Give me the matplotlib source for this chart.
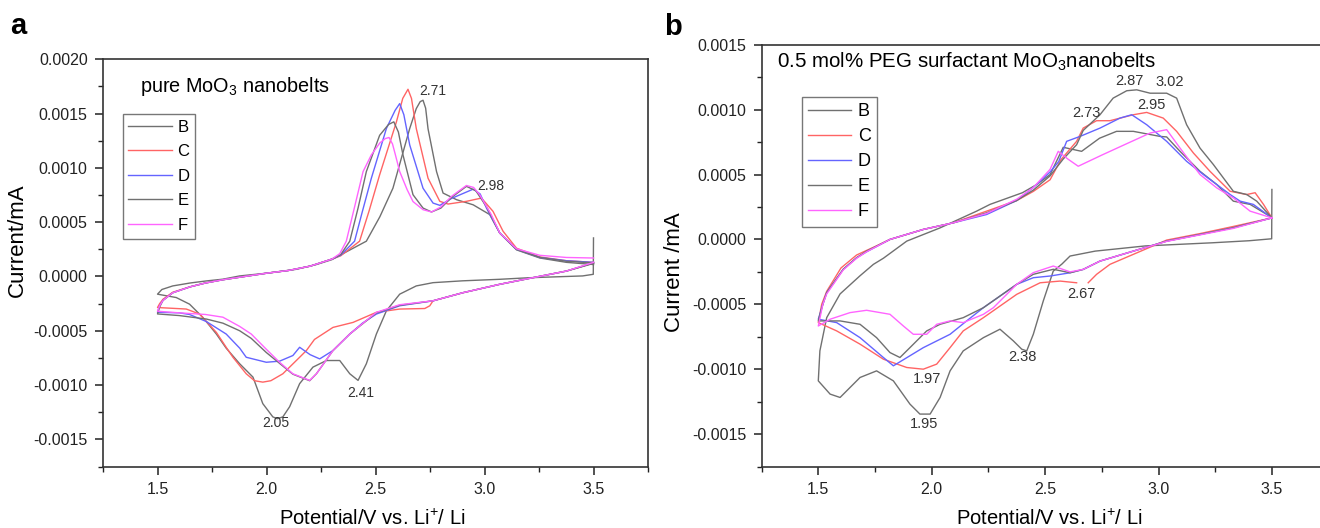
import numpy as np
import matplotlib
matplotlib.use("Agg")
import matplotlib.pyplot as plt
from matplotlib.ticker import MultipleLocator, FormatStrFormatter

plt.rcParams['font.family'] = ['Liberation Sans', 'DejaVu Sans']
plt.rcParams['mathtext.default'] = 'regular'
plt.rcParams['axes.unicode_minus'] = False

# currents are stored in units of 1e-4 mA; each loop = cathodic sweep (3.5 -> 1.5) then anodic sweep (1.5 -> 3.5)
I_UNIT = 1e-4
cycles = ["B", "C", "D", "E", "F"]
colors = ["#707070", "#ff6464", "#6464ff", "#707070", "#ff64ff"]

# ---------- panel a : pure MoO3 nanobelts ----------
a_B_v = [3.5, 3.499, 3.45, 3.376, 3.2, 3.07, 2.9, 2.764, 2.687, 2.611, 2.55, 2.504, 2.458, 2.42, 2.382, 2.336,
         2.275, 2.213, 2.152, 2.106, 2.075, 2.05, 2.029, 1.983, 1.938, 1.877, 1.815, 1.77, 1.708, 1.647, 1.586,
         1.5, 1.52, 1.57, 1.65, 1.724, 1.8, 1.877, 2.0, 2.137, 2.229, 2.3, 2.36, 2.458, 2.52, 2.58, 2.657,
         2.687, 2.705, 2.718, 2.73, 2.741, 2.78, 2.81, 2.872, 2.948, 3.024, 3.07, 3.147, 3.254, 3.376, 3.5]
a_B_i = [3.55, 0.2, 0.05, 0.0, -0.12, -0.26, -0.4, -0.57, -0.87, -1.63, -3.16, -5.3, -8.04, -9.57, -8.96, -7.74,
         -7.74, -8.35, -9.87, -12.0, -12.93, -13.1, -12.93, -11.71, -9.27, -8.04, -6.6, -5.3, -3.77, -2.55, -1.94,
         -1.63, -1.2, -0.87, -0.6, -0.41, -0.25, 0.05, 0.3, 0.66, 1.1, 1.55, 2.2, 3.25, 5.5, 8.13, 13.63,
         15.46, 16.1, 16.23, 15.5, 13.6, 9.66, 7.68, 7.07, 6.6, 5.7, 4.0, 2.45, 1.7, 1.3, 1.1]

a_C_v = [3.5, 3.376, 3.2, 3.07, 2.9, 2.764, 2.749, 2.726, 2.611, 2.504, 2.397, 2.305, 2.22, 2.183, 2.152, 2.075,
         2.02, 1.983, 1.945, 1.907, 1.846, 1.815, 1.77, 1.693, 1.632, 1.586, 1.5,
         1.51, 1.525, 1.57, 1.65, 1.72, 1.8, 1.9, 2.0, 2.1, 2.2, 2.3, 2.34, 2.427, 2.47, 2.519, 2.596, 2.625,
         2.649, 2.665, 2.687, 2.741, 2.795, 2.833, 2.917, 2.986, 3.039, 3.085, 3.147, 3.254, 3.376, 3.5]
a_C_i = [1.25, 0.5, -0.2, -0.72, -1.5, -2.24, -2.7, -2.95, -3.0, -3.3, -4.23, -4.69, -5.8, -6.82, -7.44, -8.96,
         -9.6, -9.73, -9.6, -8.96, -7.44, -6.52, -5.15, -3.46, -3.0, -2.95, -2.86,
         -2.5, -2.1, -1.45, -0.95, -0.6, -0.3, 0.0, 0.3, 0.55, 0.95, 1.6, 1.9, 3.25, 6.0, 9.36, 14.24, 16.4,
         17.24, 16.4, 13.63, 9.05, 6.92, 6.67, 6.92, 7.22, 6.0, 4.17, 2.6, 1.8, 1.45, 1.3]

a_D_v = [3.5, 3.376, 3.2, 3.07, 2.9, 2.764, 2.611, 2.504, 2.44, 2.382, 2.305, 2.244, 2.2, 2.152, 2.121, 2.06,
         1.999, 1.907, 1.877, 1.815, 1.724, 1.647, 1.6, 1.5,
         1.51, 1.525, 1.57, 1.65, 1.72, 1.8, 1.9, 2.0, 2.1, 2.2, 2.3, 2.34, 2.404, 2.44, 2.481, 2.55, 2.59,
         2.611, 2.63, 2.657, 2.718, 2.764, 2.795, 2.85, 2.948, 2.98, 3.009, 3.07, 3.147, 3.254, 3.376, 3.5]
a_D_i = [1.25, 0.5, -0.2, -0.72, -1.5, -2.24, -2.7, -3.46, -4.3, -5.3, -6.82, -7.59, -7.2, -6.52, -7.28, -7.8,
         -7.9, -7.44, -6.6, -5.3, -4.15, -3.5, -3.35, -3.3,
         -2.7, -2.2, -1.5, -0.95, -0.6, -0.3, 0.0, 0.3, 0.55, 0.95, 1.6, 1.95, 3.25, 6.0, 9.05, 13.63, 15.3,
         15.92, 14.9, 12.11, 8.13, 6.76, 6.55, 7.2, 8.04, 7.6, 6.3, 4.0, 2.5, 1.75, 1.45, 1.3]

a_E_v = [3.5, 3.376, 3.2, 3.07, 2.9, 2.764, 2.611, 2.504, 2.382, 2.305, 2.229, 2.198, 2.121, 2.06, 1.999, 1.93,
         1.877, 1.8, 1.724, 1.6, 1.5,
         1.51, 1.525, 1.57, 1.65, 1.72, 1.8, 1.9, 2.0, 2.1, 2.2, 2.3, 2.34, 2.382, 2.42, 2.458, 2.519, 2.56,
         2.584, 2.605, 2.626, 2.672, 2.718, 2.757, 2.8, 2.85, 2.917, 2.96, 3.01, 3.07, 3.147, 3.254, 3.376, 3.5]
a_E_i = [1.2, 0.5, -0.2, -0.72, -1.5, -2.24, -2.65, -3.35, -5.3, -6.82, -8.96, -9.6, -9.0, -8.0, -7.0, -5.7,
         -5.0, -4.3, -3.92, -3.6, -3.45,
         -2.8, -2.2, -1.5, -0.95, -0.6, -0.3, 0.0, 0.3, 0.55, 0.95, 1.6, 2.0, 3.25, 6.3, 9.66, 13.0, 14.0,
         14.24, 13.3, 11.2, 7.53, 6.3, 5.94, 6.3, 7.3, 8.3, 7.9, 6.4, 4.0, 2.5, 1.75, 1.4, 1.25]

a_F_v = [3.5, 3.376, 3.2, 3.07, 2.9, 2.764, 2.611, 2.504, 2.382, 2.305, 2.229, 2.198, 2.121, 2.06, 1.999, 1.93,
         1.877, 1.8, 1.72, 1.6, 1.5,
         1.51, 1.525, 1.57, 1.65, 1.72, 1.8, 1.9, 2.0, 2.1, 2.2, 2.3, 2.336, 2.366, 2.404, 2.443, 2.481, 2.52,
         2.545, 2.562, 2.578, 2.59, 2.611, 2.645, 2.672, 2.718, 2.757, 2.8, 2.85, 2.917, 2.95, 2.978, 3.031,
         3.07, 3.147, 3.254, 3.376, 3.5]
a_F_i = [1.3, 0.5, -0.2, -0.72, -1.5, -2.24, -2.6, -3.3, -5.3, -6.82, -8.96, -9.57, -8.96, -7.9, -6.7, -5.3,
         -4.6, -3.75, -3.5, -3.35, -3.2,
         -2.7, -2.2, -1.5, -0.95, -0.6, -0.3, 0.0, 0.3, 0.55, 0.95, 1.6, 2.1, 3.25, 6.4, 9.66, 11.2, 12.3,
         12.7, 12.8, 12.2, 11.3, 9.66, 8.0, 6.9, 6.15, 5.94, 6.4, 7.4, 8.38, 8.2, 7.53, 5.7,
         4.0, 2.55, 1.95, 1.75, 1.7]

# ---------- panel b : 0.5 mol% PEG surfactant MoO3 nanobelts ----------
b_B_v = [3.5, 3.499, 3.4, 3.236, 2.942, 2.721, 2.61, 2.574, 2.536, 2.492, 2.448, 2.419, 2.397, 2.36, 2.301,
         2.228, 2.139, 2.081, 2.037, 1.993, 1.948, 1.904, 1.831, 1.757, 1.684, 1.596, 1.552, 1.5,
         1.507, 1.537, 1.596, 1.684, 1.743, 1.787, 1.89, 2.037, 2.198, 2.257, 2.4, 2.463, 2.522, 2.58, 2.661,
         2.74, 2.815, 2.889, 3.007, 3.036, 3.095, 3.183, 3.257, 3.33, 3.404, 3.48, 3.5]
b_B_i = [3.85, 0.05, -0.1, -0.26, -0.5, -0.9, -1.28, -1.9, -2.44, -4.74, -7.31, -8.59, -8.46, -7.82, -6.92,
         -7.57, -8.59, -10.13, -12.18, -13.46, -13.46, -12.69, -10.9, -10.13, -10.64, -12.18, -11.92, -10.9,
         -8.59, -6.03, -4.2, -2.8, -1.92, -1.45, -0.13, 0.89, 2.18, 2.7, 3.6, 4.23, 5.0, 7.1, 6.79,
         7.8, 8.33, 8.33, 7.94, 7.9, 6.79, 5.25, 4.23, 2.95, 2.7, 1.9, 1.66]

b_C_v = [3.5, 3.33, 3.183, 3.036, 2.889, 2.786, 2.727, 2.69, np.nan, 2.639, 2.566, 2.478, 2.375, 2.228, 2.139,
         2.081, 2.022, 1.963, 1.89, 1.787, 1.684, 1.581, 1.5,
         1.515, 1.537, 1.6, 1.669, 1.75, 1.816, 1.963, 2.095, 2.242, 2.375, 2.448, 2.522, 2.57, 2.639, 2.668,
         2.727, 2.786, 2.889, 2.948, 3.021, 3.08, 3.154, 3.227, 3.316, 3.389, 3.426, 3.463, 3.5]
b_C_i = [1.66, 1.0, 0.45, -0.05, -1.15, -1.92, -2.69, -3.34, np.nan, -3.34, -3.21, -3.34, -4.23, -6.03, -7.05,
         -8.34, -9.61, -10.0, -9.87, -9.23, -8.07, -7.05, -6.41,
         -5.0, -4.0, -2.2, -1.2, -0.55, 0.0, 0.77, 1.28, 2.18, 3.0, 3.7, 4.6, 6.15, 7.56, 8.58,
         9.15, 9.15, 9.61, 9.79, 9.35, 8.33, 6.66, 5.25, 3.71, 3.46, 3.6, 2.7, 1.66]

b_D_v = [3.5, 3.33, 3.183, 3.036, 2.889, 2.742, 2.668, 2.61, 2.522, 2.448, 2.375, 2.228, 2.154, 2.081, 1.963,
         1.831, 1.787, 1.684, 1.581, 1.5,
         1.52, 1.537, 1.61, 1.669, 1.713, 1.816, 1.963, 2.095, 2.242, 2.375, 2.448, 2.522, 2.56, 2.595, 2.654,
         2.742, 2.83, 2.882, 2.948, 3.036, 3.124, 3.198, 3.316, 3.36, 3.418, 3.5]
b_D_i = [1.66, 0.9, 0.38, -0.13, -0.9, -1.67, -2.31, -2.57, -2.82, -2.95, -3.46, -5.26, -6.28, -7.31, -8.34,
         -9.74, -9.1, -7.57, -6.41, -6.15,
         -5.0, -4.1, -2.3, -1.41, -0.95, 0.0, 0.77, 1.28, 1.92, 3.0, 4.0, 5.2, 6.0, 7.56, 7.94,
         8.58, 9.35, 9.61, 8.84, 7.56, 6.02, 5.0, 3.46, 2.95, 2.7, 1.66]

b_E_v = [3.5, 3.33, 3.183, 3.036, 2.889, 2.742, 2.668, 2.61, 2.536, 2.448, 2.375, 2.228, 2.139, 2.037, 1.978,
         1.904, 1.86, 1.816, 1.757, 1.684, 1.596, 1.5,
         1.52, 1.537, 1.61, 1.669, 1.713, 1.816, 1.963, 2.095, 2.242, 2.375, 2.448, 2.522, 2.58, 2.639, 2.668,
         2.742, 2.8, 2.86, 2.904, 2.963, 3.036, 3.08, 3.124, 3.183, 3.242, 3.33, 3.389, 3.433, 3.5]
b_E_i = [1.66, 0.9, 0.38, -0.13, -0.9, -1.67, -2.31, -2.57, -2.3, -2.69, -3.46, -5.26, -6.03, -6.54, -7.05,
         -8.34, -9.1, -8.72, -7.57, -6.54, -6.28, -6.28,
         -5.0, -4.1, -2.3, -1.41, -0.9, 0.0, 0.77, 1.28, 2.05, 3.0, 3.8, 4.9, 6.2, 7.3, 8.4,
         9.61, 10.89, 11.46, 11.53, 11.27, 11.27, 10.89, 8.84, 7.04, 5.77, 3.71, 3.46, 2.95, 1.66]

b_F_v = [3.5, 3.33, 3.183, 3.036, 2.889, 2.742, 2.668, 2.61, 2.536, 2.448, 2.375, 2.272, 2.228, 2.139, 2.081,
         2.022, 1.978, 1.919, 1.875, 1.816, 1.713, 1.64, 1.552, 1.5,
         1.52, 1.537, 1.61, 1.669, 1.713, 1.816, 1.963, 2.095, 2.242, 2.375, 2.448, 2.522, 2.558, 2.6, 2.646,
         2.75, 2.85, 2.963, 3.036, 3.095, 3.183, 3.257, 3.33, 3.404, 3.5]
b_F_i = [1.66, 0.85, 0.35, -0.15, -0.9, -1.67, -2.31, -2.5, -2.05, -2.56, -3.46, -5.26, -5.77, -6.41, -6.28,
         -6.54, -7.31, -7.31, -6.67, -5.77, -5.46, -5.64, -6.15, -6.67,
         -5.0, -4.2, -2.35, -1.45, -0.95, 0.0, 0.77, 1.28, 2.0, 3.1, 4.0, 5.4, 6.79, 6.2, 5.64,
         6.5, 7.3, 8.2, 8.46, 7.04, 5.0, 3.97, 3.2, 2.18, 1.66]

a_curves = [(a_B_v, a_B_i), (a_C_v, a_C_i), (a_D_v, a_D_i), (a_E_v, a_E_i), (a_F_v, a_F_i)]
b_curves = [(b_B_v, b_B_i), (b_C_v, b_C_i), (b_D_v, b_D_i), (b_E_v, b_E_i), (b_F_v, b_F_i)]

# peak annotations: text, V position, I position (1e-4 mA)
a_notes = [("2.71", 2.70, 17.1), ("2.98", 2.965, 8.35), ("2.05", 1.98, -13.54), ("2.41", 2.37, -10.73)]
b_notes = [("2.87", 2.808, 12.2), ("3.02", 2.985, 12.1), ("2.95", 2.905, 10.33), ("2.73", 2.618, 9.74),
           ("2.67", 2.597, -4.23), ("2.38", 2.337, -9.05), ("1.97", 1.918, -10.77), ("1.95", 1.904, -14.23)]

W, H = 1320, 528
fig = plt.figure(figsize=(W / 100, H / 100), dpi=100)
ax_a = fig.add_axes([103 / W, 1 - 466.5 / H, 545 / W, 407.2 / H])
ax_b = fig.add_axes([761.6 / W, 1 - 466.5 / H, 567 / W, 421.7 / H])


def style_axis(ax, ylo, yhi):
    ax.set_xlim(1.25, 3.75)
    ax.set_ylim(ylo, yhi)
    ax.xaxis.set_major_locator(MultipleLocator(0.5))
    ax.xaxis.set_minor_locator(MultipleLocator(0.25))
    ax.yaxis.set_major_locator(MultipleLocator(0.0005))
    ax.yaxis.set_minor_locator(MultipleLocator(0.00025))
    ax.xaxis.set_major_formatter(FormatStrFormatter('%.1f'))
    ax.yaxis.set_major_formatter(FormatStrFormatter('%.4f'))
    ax.tick_params(which='both', direction='out', top=False, right=False, labelsize=11.5, colors='#222222')
    ax.tick_params(which='major', length=6, width=1.1, pad=5)
    ax.tick_params(which='minor', length=3.5, width=1.0)
    for s in ax.spines.values():
        s.set_linewidth(1.2)
        s.set_color('#333333')


for ax, curves, ylo, yhi in [(ax_a, a_curves, -0.00175, 0.0020), (ax_b, b_curves, -0.00175, 0.0015)]:
    style_axis(ax, ylo, yhi)
    for (v, i), name, c in zip(curves, cycles, colors):
        ax.plot(v, np.array(i) * I_UNIT, color=c, lw=1.0, label=name)

for txt, x, y in a_notes:
    ax_a.text(x, y * I_UNIT, txt, fontsize=10, color='#333333', ha='left', va='center')
for txt, x, y in b_notes:
    ax_b.text(x, y * I_UNIT, txt, fontsize=10.5, color='#333333', ha='left', va='center')

ax_a.text(1.42, 17.0 * I_UNIT, "pure MoO$_3$ nanobelts", fontsize=14.3, va='baseline', ha='left')
ax_b.text(1.317, 13.2 * I_UNIT, "0.5 mol% PEG surfactant MoO$_3$nanobelts", fontsize=14.8, va='baseline', ha='left')

leg_a = ax_a.legend(loc='upper left', bbox_to_anchor=(0.036, 0.866), borderaxespad=0, fontsize=12,
                    handlelength=2.6, handletextpad=0.35, labelspacing=0.57, borderpad=0.35,
                    fancybox=False, framealpha=1, edgecolor='#777777')
leg_b = ax_b.legend(loc='upper left', bbox_to_anchor=(0.0707, 0.877), borderaxespad=0, fontsize=13,
                    handlelength=2.4, handletextpad=0.35, labelspacing=0.45, borderpad=0.35,
                    fancybox=False, framealpha=1, edgecolor='#777777')
for leg in (leg_a, leg_b):
    leg.get_frame().set_linewidth(1.0)

ax_a.set_ylabel("Current/mA", fontsize=16)
ax_a.yaxis.set_label_coords(-0.137, 0.556)
ax_a.set_xlabel("Potential/V vs. Li$^{+}$/ Li", fontsize=14.5)
ax_a.xaxis.set_label_coords(0.494, -0.104)

ax_b.set_ylabel("Current /mA", fontsize=16)
ax_b.yaxis.set_label_coords(-0.135, 0.46)
ax_b.set_xlabel("Potential/V vs. Li$^{+}$/ Li", fontsize=14.5)
ax_b.xaxis.set_label_coords(0.507, -0.101)

fig.text(10 / W, 1 - 34 / H, "a", fontsize=21, fontweight='bold', va='baseline')
fig.text(664 / W, 1 - 35 / H, "b", fontsize=21, fontweight='bold', va='baseline')

fig.savefig("out.png", dpi=100)
